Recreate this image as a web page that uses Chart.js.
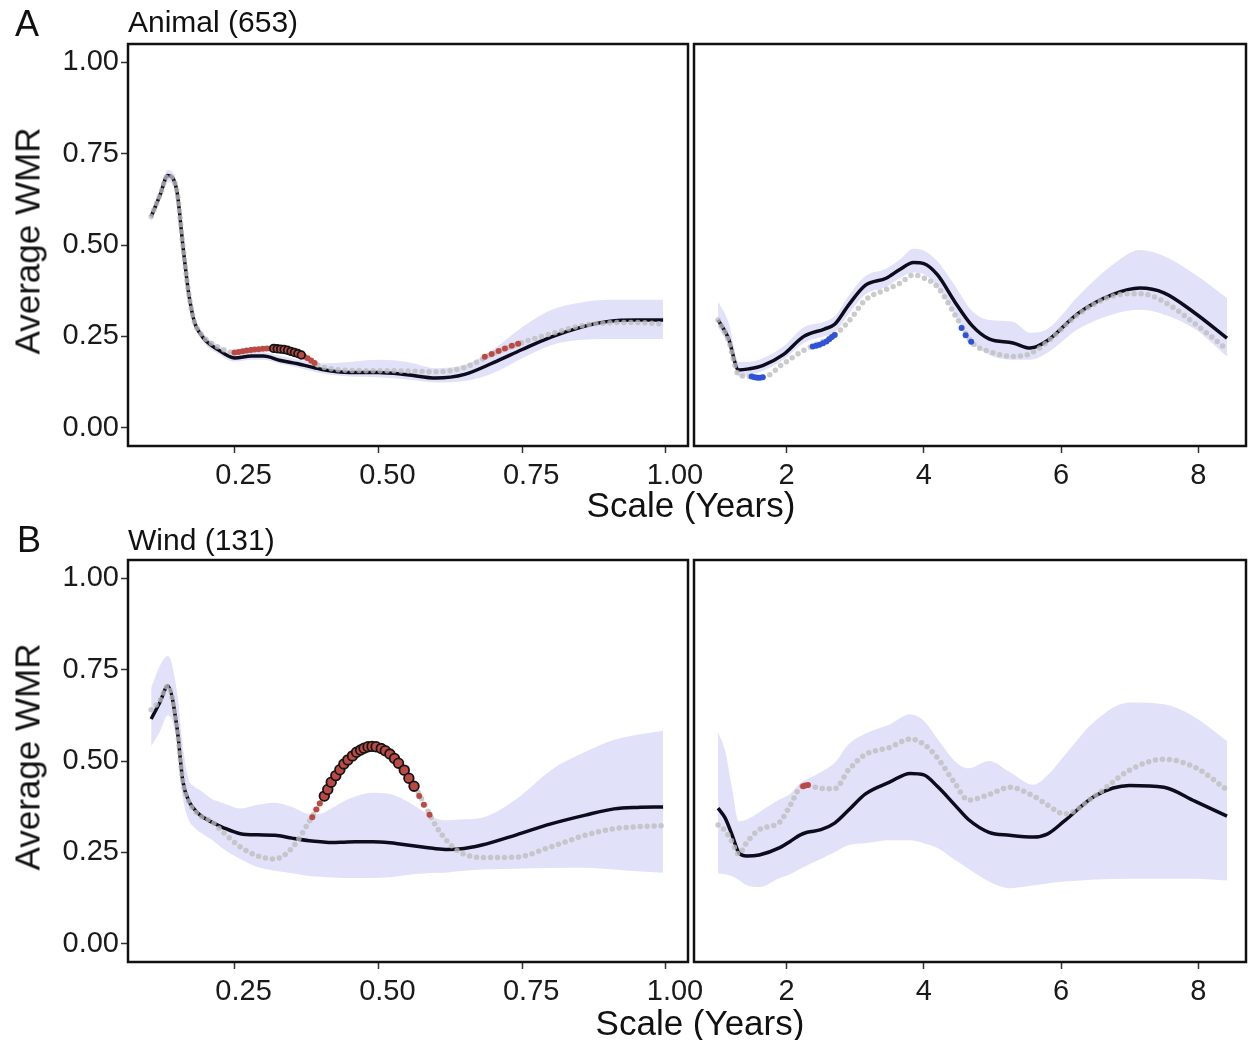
<!DOCTYPE html>
<html>
<head>
<meta charset="utf-8">
<script src="https://cdn.jsdelivr.net/npm/chart.js@4.4.0/dist/chart.umd.min.js"></script>
<style>
  body { margin: 0; background: #fff; }
  #fig { position: relative; width: 1250px; height: 1040px; overflow: hidden;
         font-family: "Liberation Sans", Arial, sans-serif; color: #111; }
  #fig canvas { position: absolute; }
  .lbl { position: absolute; white-space: nowrap; line-height: 1; }
  .ytitle { position: absolute; white-space: nowrap; line-height: 1; font-size: 35px;
            transform: translate(-50%, -50%) rotate(-90deg); }
  .xtitle { position: absolute; white-space: nowrap; line-height: 1; font-size: 35px;
            transform: translateX(-50%); }
</style>
</head>
<body>
<div id="fig">
  <canvas id="windLong" width="560" height="500" style="left:690px;top:516px"></canvas>
  <canvas id="windShort" width="730" height="500" style="left:0;top:516px"></canvas>
  <canvas id="animalLong" width="560" height="500" style="left:690px;top:0"></canvas>
  <canvas id="animalShort" width="730" height="500" style="left:0;top:0"></canvas>

  <div class="lbl" style="left:15px;top:6px;font-size:36px">A</div>
  <div class="lbl" style="left:128px;top:7px;font-size:30px">Animal (653)</div>
  <div class="lbl" style="left:17px;top:522px;font-size:36px">B</div>
  <div class="lbl" style="left:128px;top:525px;font-size:30px">Wind (131)</div>
  <div class="ytitle" style="left:27px;top:241px">Average WMR</div>
  <div class="ytitle" style="left:27px;top:757px">Average WMR</div>
  <div class="xtitle" style="left:691px;top:487px">Scale (Years)</div>
  <div class="xtitle" style="left:700px;top:1005px">Scale (Years)</div>
</div>

<script>
// tick positions
const shortTicks = [0.25, 0.5, 0.75, 1.0];
const longTicks = [2, 4, 6, 8];
const wmrTicks = [0, 0.25, 0.5, 0.75, 1.0];

// Animal, scales up to one year
const animalShortScale = [0.105, 0.12, 0.134, 0.15, 0.16, 0.17, 0.18, 0.19, 0.20, 0.22, 0.25, 0.28, 0.30, 0.33, 0.36, 0.40, 0.45, 0.50, 0.55, 0.60, 0.65, 0.70, 0.75, 0.80, 0.85, 0.90, 0.95, 0.995];
const animalShortMean = [0.578, 0.635, 0.69, 0.645, 0.50, 0.37, 0.29, 0.258, 0.238, 0.215, 0.191, 0.196, 0.196, 0.184, 0.175, 0.16, 0.151, 0.151, 0.145, 0.136, 0.146, 0.178, 0.214, 0.248, 0.274, 0.291, 0.295, 0.295];
const animalShortObserved = [0.578, 0.635, 0.69, 0.645, 0.50, 0.37, 0.29, 0.26, 0.242, 0.222, 0.206, 0.212, 0.216, 0.213, 0.202, 0.168, 0.157, 0.156, 0.155, 0.153, 0.165, 0.203, 0.233, 0.257, 0.278, 0.287, 0.288, 0.284];
const animalShortLow = [0.562, 0.618, 0.672, 0.628, 0.485, 0.358, 0.28, 0.248, 0.226, 0.204, 0.181, 0.186, 0.186, 0.175, 0.165, 0.149, 0.14, 0.138, 0.132, 0.124, 0.128, 0.15, 0.19, 0.226, 0.24, 0.243, 0.243, 0.243];
const animalShortHigh = [0.594, 0.652, 0.705, 0.662, 0.515, 0.382, 0.30, 0.272, 0.25, 0.228, 0.205, 0.208, 0.207, 0.196, 0.187, 0.176, 0.18, 0.186, 0.18, 0.163, 0.172, 0.215, 0.275, 0.322, 0.342, 0.35, 0.35, 0.35];
const animalShortRedX = [0.25, 0.257, 0.264, 0.271, 0.278, 0.285, 0.292, 0.299, 0.306, 0.312, 0.371, 0.377, 0.383, 0.389, 0.685, 0.697, 0.709, 0.72, 0.732, 0.743];
const animalShortRedY = [0.206, 0.207, 0.209, 0.211, 0.213, 0.214, 0.215, 0.216, 0.217, 0.217, 0.195, 0.19, 0.184, 0.177, 0.194, 0.202, 0.21, 0.217, 0.224, 0.23];
const animalShortRingX = [0.318, 0.324, 0.330, 0.336, 0.342, 0.348, 0.354, 0.360, 0.366];
const animalShortRingY = [0.217, 0.216, 0.215, 0.214, 0.212, 0.209, 0.206, 0.203, 0.199];

// Animal, longer scales
const animalLongScale = [1.0, 1.15, 1.3, 1.45, 1.65, 1.95, 2.25, 2.55, 2.7, 2.9, 3.15, 3.45, 3.65, 3.85, 4.0, 4.2, 4.45, 4.7, 4.95, 5.3, 5.55, 5.8, 6.25, 6.75, 7.15, 7.5, 7.95, 8.42];
const animalLongMean = [0.295, 0.245, 0.158, 0.161, 0.17, 0.2, 0.25, 0.27, 0.283, 0.335, 0.39, 0.409, 0.433, 0.452, 0.449, 0.418, 0.345, 0.28, 0.243, 0.232, 0.218, 0.238, 0.313, 0.364, 0.382, 0.369, 0.314, 0.245];
const animalLongObserved = [0.295, 0.24, 0.145, 0.14, 0.138, 0.175, 0.212, 0.238, 0.254, 0.29, 0.35, 0.378, 0.395, 0.418, 0.41, 0.385, 0.31, 0.233, 0.209, 0.195, 0.203, 0.235, 0.31, 0.36, 0.367, 0.345, 0.285, 0.214];
const animalLongLow = [0.275, 0.225, 0.14, 0.145, 0.155, 0.185, 0.232, 0.25, 0.262, 0.31, 0.365, 0.385, 0.41, 0.425, 0.42, 0.385, 0.31, 0.235, 0.2, 0.186, 0.186, 0.205, 0.27, 0.31, 0.323, 0.31, 0.27, 0.195];
const animalLongHigh = [0.345, 0.29, 0.18, 0.18, 0.19, 0.222, 0.275, 0.29, 0.305, 0.36, 0.415, 0.435, 0.46, 0.49, 0.485, 0.455, 0.39, 0.32, 0.295, 0.29, 0.26, 0.27, 0.36, 0.445, 0.486, 0.47, 0.42, 0.355];
const animalLongBlueX = [1.49, 1.53, 1.57, 1.61, 1.65, 2.38, 2.43, 2.48, 2.53, 2.58, 2.62, 2.66, 2.70, 4.55, 4.61, 4.69];
const animalLongBlueY = [0.14, 0.138, 0.137, 0.137, 0.138, 0.222, 0.224, 0.227, 0.231, 0.236, 0.242, 0.248, 0.254, 0.273, 0.253, 0.235];

// Wind, scales up to one year
const windShortScale = [0.105, 0.12, 0.134, 0.15, 0.16, 0.17, 0.18, 0.19, 0.21, 0.23, 0.26, 0.29, 0.32, 0.35, 0.38, 0.40, 0.42, 0.44, 0.46, 0.49, 0.52, 0.54, 0.56, 0.58, 0.60, 0.62, 0.64, 0.68, 0.74, 0.80, 0.86, 0.91, 0.95, 0.995];
const windShortMean = [0.615, 0.66, 0.705, 0.59, 0.445, 0.392, 0.368, 0.352, 0.333, 0.318, 0.301, 0.298, 0.297, 0.289, 0.282, 0.279, 0.277, 0.278, 0.279, 0.279, 0.276, 0.272, 0.268, 0.264, 0.26, 0.258, 0.259, 0.27, 0.298, 0.328, 0.352, 0.369, 0.373, 0.374];
const windShortObserved = [0.64, 0.665, 0.705, 0.59, 0.445, 0.39, 0.365, 0.35, 0.335, 0.305, 0.265, 0.24, 0.232, 0.262, 0.335, 0.387, 0.445, 0.49, 0.52, 0.54, 0.519, 0.487, 0.44, 0.382, 0.322, 0.28, 0.252, 0.236, 0.237, 0.265, 0.297, 0.315, 0.32, 0.323];
const windShortLow = [0.54, 0.58, 0.625, 0.55, 0.40, 0.34, 0.318, 0.305, 0.285, 0.26, 0.232, 0.21, 0.2, 0.193, 0.185, 0.183, 0.181, 0.18, 0.18, 0.18, 0.182, 0.186, 0.19, 0.192, 0.194, 0.195, 0.198, 0.203, 0.205, 0.207, 0.208, 0.203, 0.198, 0.194];
const windShortHigh = [0.70, 0.76, 0.787, 0.69, 0.54, 0.45, 0.43, 0.42, 0.397, 0.385, 0.37, 0.38, 0.386, 0.374, 0.355, 0.356, 0.372, 0.39, 0.403, 0.413, 0.41, 0.398, 0.38, 0.36, 0.343, 0.338, 0.34, 0.345, 0.396, 0.475, 0.525, 0.558, 0.572, 0.583];
const windShortRedX = [0.385, 0.392, 0.398, 0.571, 0.579, 0.589];
const windShortRedY = [0.346, 0.367, 0.384, 0.404, 0.38, 0.353];
const windShortRingX = [0.406, 0.412, 0.418, 0.426, 0.433, 0.44, 0.447, 0.455, 0.462, 0.469, 0.475, 0.482, 0.489, 0.496, 0.505, 0.512, 0.52, 0.528, 0.535, 0.545, 0.553, 0.562];
const windShortRingY = [0.404, 0.422, 0.442, 0.46, 0.476, 0.492, 0.503, 0.514, 0.524, 0.53, 0.535, 0.539, 0.54, 0.539, 0.534, 0.528, 0.519, 0.507, 0.494, 0.475, 0.453, 0.431];

// Wind, longer scales
const windLongScale = [1.0, 1.1, 1.2, 1.3, 1.42, 1.6, 1.9, 2.05, 2.2, 2.3, 2.5, 2.7, 2.9, 3.15, 3.5, 3.8, 4.0, 4.2, 4.45, 4.65, 4.95, 5.25, 5.6, 5.8, 6.05, 6.5, 7.0, 7.5, 7.95, 8.42];
const windLongMean = [0.371, 0.345, 0.3, 0.25, 0.24, 0.243, 0.263, 0.28, 0.298, 0.305, 0.312, 0.33, 0.365, 0.41, 0.442, 0.466, 0.462, 0.43, 0.38, 0.34, 0.305, 0.297, 0.292, 0.3, 0.336, 0.405, 0.433, 0.428, 0.39, 0.349];
const windLongObserved = [0.325, 0.31, 0.28, 0.245, 0.278, 0.312, 0.333, 0.378, 0.428, 0.433, 0.425, 0.424, 0.475, 0.518, 0.537, 0.56, 0.546, 0.508, 0.44, 0.393, 0.408, 0.428, 0.404, 0.38, 0.355, 0.405, 0.475, 0.505, 0.483, 0.421];
const windLongLow = [0.192, 0.19, 0.185, 0.175, 0.16, 0.155, 0.18, 0.19, 0.205, 0.215, 0.232, 0.25, 0.27, 0.275, 0.283, 0.283, 0.275, 0.262, 0.23, 0.205, 0.17, 0.152, 0.16, 0.165, 0.17, 0.176, 0.178, 0.178, 0.178, 0.173];
const windLongHigh = [0.578, 0.53, 0.43, 0.335, 0.34, 0.36, 0.395, 0.41, 0.44, 0.45, 0.47, 0.495, 0.545, 0.575, 0.6, 0.628, 0.61, 0.56, 0.5, 0.48, 0.5, 0.47, 0.435, 0.46, 0.515, 0.61, 0.66, 0.655, 0.62, 0.555];
const windLongRedX = [2.24, 2.27, 2.31];
const windLongRedY = [0.431, 0.433, 0.434];

const bandFill = "#e1e1fa";
const meanColor = "#0c0c1c";
const observedColor = "rgba(188,188,188,0.78)";
const redColor = "#bc4a44";
const blueColor = "#2f52d9";
const tickFont = { family: "'Liberation Sans', Arial, sans-serif", size: 29 };

const panelFrame = {
  id: "panelFrame",
  afterDraw(chart) {
    const { ctx, chartArea: a } = chart;
    ctx.save();
    ctx.strokeStyle = "#111";
    ctx.lineWidth = 2.5;
    ctx.strokeRect(a.left, a.top, a.right - a.left, a.bottom - a.top);
    ctx.restore();
  },
};

function toPoints(xs, ys) {
  return xs.map((x, i) => ({ x: x, y: ys[i] }));
}

function pointSet(xs, ys, color, radius, ring) {
  return {
    data: toPoints(xs, ys),
    showLine: false,
    pointRadius: radius,
    pointBackgroundColor: color,
    pointBorderColor: ring ? "#151515" : color,
    pointBorderWidth: ring ? 1.8 : 0,
    order: ring ? 1 : 2,
  };
}

function drawPanel(id, p) {
  const datasets = [
    { data: toPoints(p.scale, p.high), fill: "+1", backgroundColor: bandFill,
      borderWidth: 0, pointRadius: 0, cubicInterpolationMode: "monotone", order: 6 },
    { data: toPoints(p.scale, p.low), fill: false,
      borderWidth: 0, pointRadius: 0, cubicInterpolationMode: "monotone", order: 6 },
    { data: toPoints(p.scale, p.mean), borderColor: meanColor, borderWidth: 3.5,
      pointRadius: 0, cubicInterpolationMode: "monotone", order: 5 },
    { data: toPoints(p.scale, p.observed), borderColor: observedColor, borderWidth: 5.5,
      borderDash: [0, 7], borderCapStyle: "round", pointRadius: 0,
      cubicInterpolationMode: "monotone", order: 4 },
  ];
  (p.points || []).forEach((s) => datasets.push(pointSet(s.x, s.y, s.color, s.radius, s.ring)));

  const tickGrid = { display: true, drawOnChartArea: false, drawTicks: true,
                     tickLength: 7, tickColor: "#333", tickWidth: 1.5 };

  new Chart(document.getElementById(id), {
    type: "line",
    data: { datasets },
    plugins: [panelFrame],
    options: {
      responsive: false,
      animation: false,
      events: [],
      layout: { padding: p.padding },
      plugins: { legend: { display: false }, tooltip: { enabled: false } },
      scales: {
        x: {
          type: "linear",
          min: p.xMin,
          max: p.xMax,
          afterBuildTicks: (s) => { s.ticks = p.ticks.map((v) => ({ value: v })); },
          afterFit: (s) => { s.height = 54; },
          ticks: { font: tickFont, color: "#1a1a1a", padding: 6, maxRotation: 0,
                   autoSkip: false, labelOffset: p.labelShift, callback: p.format },
          grid: tickGrid,
          border: { display: false },
        },
        y: {
          type: "linear",
          display: p.showY,
          min: -0.05,
          max: 1.05,
          afterBuildTicks: (s) => { s.ticks = wmrTicks.map((v) => ({ value: v })); },
          // only the left panels carry a y axis
          afterFit: (s) => { s.width = p.showY ? 128 : 0; },
          ticks: { font: tickFont, color: "#1a1a1a", padding: 2, autoSkip: false,
                   callback: (v) => v.toFixed(2) },
          grid: tickGrid,
          border: { display: false },
        },
      },
    },
  });
}

const shortAxis = { xMin: 0.0647, xMax: 1.0383, ticks: shortTicks, showY: true, labelShift: 9,
                    format: (v) => v.toFixed(2), padding: { top: 44, right: 42, bottom: 0, left: 0 } };
const longAxis = { xMin: 0.649, xMax: 8.697, ticks: longTicks, showY: false, labelShift: 0,
                   format: (v) => String(v), padding: { top: 44, right: 2, bottom: 0, left: 4 } };

drawPanel("animalShort", Object.assign({}, shortAxis, {
  scale: animalShortScale, mean: animalShortMean, observed: animalShortObserved,
  low: animalShortLow, high: animalShortHigh,
  points: [
    { x: animalShortRedX, y: animalShortRedY, color: redColor, radius: 3 },
    { x: animalShortRingX, y: animalShortRingY, color: redColor, radius: 3.8, ring: true },
  ],
}));

drawPanel("animalLong", Object.assign({}, longAxis, {
  scale: animalLongScale, mean: animalLongMean, observed: animalLongObserved,
  low: animalLongLow, high: animalLongHigh,
  points: [{ x: animalLongBlueX, y: animalLongBlueY, color: blueColor, radius: 3 }],
}));

drawPanel("windShort", Object.assign({}, shortAxis, {
  scale: windShortScale, mean: windShortMean, observed: windShortObserved,
  low: windShortLow, high: windShortHigh,
  points: [
    { x: windShortRedX, y: windShortRedY, color: redColor, radius: 3 },
    { x: windShortRingX, y: windShortRingY, color: redColor, radius: 4.8, ring: true },
  ],
}));

drawPanel("windLong", Object.assign({}, longAxis, {
  scale: windLongScale, mean: windLongMean, observed: windLongObserved,
  low: windLongLow, high: windLongHigh,
  points: [{ x: windLongRedX, y: windLongRedY, color: redColor, radius: 3 }],
}));
</script>
</body>
</html>
